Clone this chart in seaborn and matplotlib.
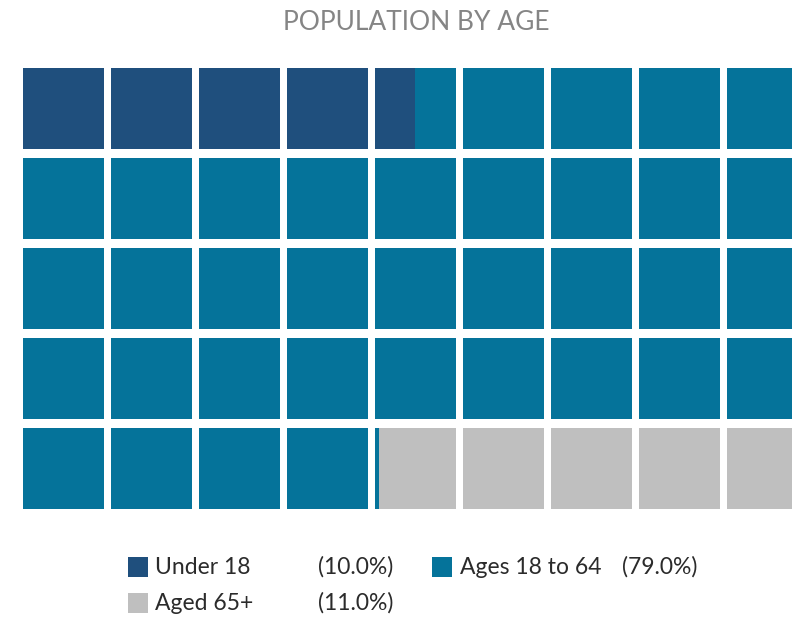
import numpy as np
import matplotlib
matplotlib.use("Agg")
import matplotlib.pyplot as plt
from matplotlib.patches import Rectangle
import seaborn as sns

# waffle data
categories = ["Under 18", "Ages 18 to 64", "Aged 65+"]
shares = [10.0, 79.0, 11.0]
colors = ["#1f4f7d", "#05739a", "#bfbfbf"]
n_rows = 5
n_cols = 9
title = "POPULATION BY AGE"

sns.set_theme(style="white")
plt.rcParams["font.family"] = ["Lato", "DejaVu Sans"]

W, H = 792, 618
fig = plt.figure(figsize=(W / 100, H / 100), dpi=100)

# grid geometry (pixels) - last column is clipped by the right edge
pitch_x, pitch_y = 88, 90
cell_w, cell_h = 0.915, 0.9
left_px = 23 - pitch_x * (1 - cell_w) / 2
top_px = 68 - pitch_y * (1 - cell_h) / 2
ax = fig.add_axes([left_px / W, (H - top_px - n_rows * pitch_y) / H,
                   n_cols * pitch_x / W, n_rows * pitch_y / H])

n_cells = n_rows * n_cols
bounds = np.concatenate([[0], np.cumsum(shares)]) / 100 * n_cells

for i in range(n_cells):
    row, col = divmod(i, n_cols)
    for k, color in enumerate(colors):
        start = max(bounds[k], i)
        end = min(bounds[k + 1], i + 1)
        if end - start <= 0:
            continue
        ax.barh(row, (end - start) * cell_w, left=col + (start - i) * cell_w,
                height=cell_h, color=color, linewidth=0)

gx = (1 - cell_w) / 2
ax.set_xlim(-gx, n_cols - gx)
ax.set_ylim(n_rows - 0.5, -0.5)
ax.axis("off")

fig.text(416 / W, 1 - 23 / H, title, ha="center", va="center",
         fontsize=19, color="#858585")

# legend drawn by hand, two rows
leg = [
    (128, 567, 155, 318),
    (432, 567, 460, 622),
    (128, 603, 155, 318),
]
for (sq_x, y, tx, px), cat, share, color in zip(leg, categories, shares, colors):
    fig.add_artist(Rectangle((sq_x / W, 1 - (y + 10) / H), 20 / W, 20 / H,
                             transform=fig.transFigure, color=color, lw=0))
    fig.text(tx / W, 1 - y / H, cat, ha="left", va="center",
             fontsize=16.5, color="#2b2b2b")
    fig.text(px / W, 1 - y / H, f"({share:.1f}%)", ha="left", va="center",
             fontsize=16.5, color="#2b2b2b")

fig.savefig("out.png", dpi=100)
